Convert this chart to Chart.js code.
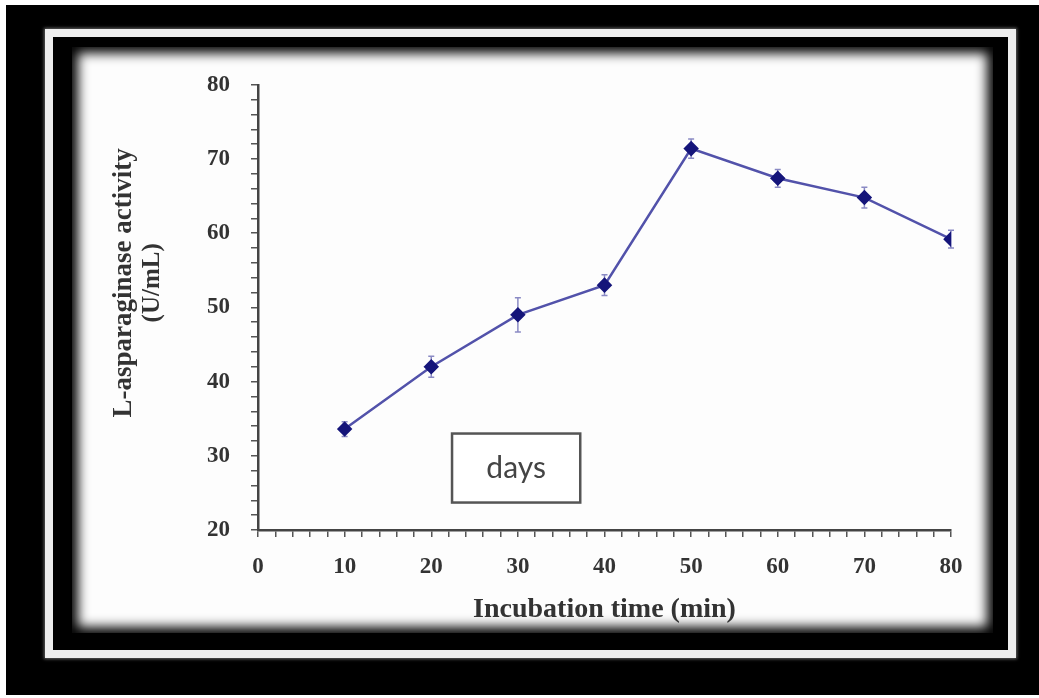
<!DOCTYPE html>
<html>
<head>
<meta charset="utf-8">
<script src="https://cdn.jsdelivr.net/npm/chart.js@4.4.1/dist/chart.umd.min.js"></script>
<style>
  body { margin: 0; background: #fff; }
  #outer { position: absolute; left: 6px; top: 5px; width: 1033px; height: 690px; background: #000; }
  #line { position: absolute; left: 45px; top: 29px; width: 971px; height: 629px; box-sizing: border-box;
          border: 8px solid #eee; background: #000; box-shadow: 0 0 3px 1px rgba(255,255,255,0.4); }
  #panel { position: absolute; left: 72px; top: 47px; width: 921px; height: 586px; background: #fdfdfd;
           box-shadow: inset 0 0 12px 6px #000; }
  #wrap { position: absolute; left: 75px; top: 50px; width: 915px; height: 580px; }
</style>
</head>
<body>
<div id="outer"></div>
<div id="line"></div>
<div id="panel"></div>
<div id="wrap"><canvas id="myChart"></canvas></div>
<script>
    var timeMin = [10, 20, 30, 40, 50, 60, 70, 80]
    var activity = [33.6, 42.0, 49.0, 53.0, 71.4, 67.4, 64.8, 59.2]
    var errors = [1.0, 1.4, 2.3, 1.4, 1.3, 1.2, 1.4, 1.2]
    var yTitle = ['L-asparaginase activity', '(U/mL)']
    var xTitle = 'Incubation time (min)'
    var boxLabel = 'days'

    var points = timeMin.map(function(t, i) { return {x: t, y: activity[i]} })

    // error bars, drawn before the line
    var errorBarPlugin = {
        id: 'errorBars',
        beforeDatasetsDraw: function(chart) {
            var ctx = chart.ctx
            var xs = chart.scales.x, ys = chart.scales.y
            ctx.save()
            ctx.strokeStyle = '#8a8ac4'
            ctx.lineWidth = 1.5
            for (var i = 0; i < timeMin.length; i++) {
                var px = xs.getPixelForValue(timeMin[i])
                var top = ys.getPixelForValue(activity[i] + errors[i])
                var bot = ys.getPixelForValue(activity[i] - errors[i])
                ctx.beginPath()
                ctx.moveTo(px, top); ctx.lineTo(px, bot)
                ctx.moveTo(px - 3, top); ctx.lineTo(px + 3, top)
                ctx.moveTo(px - 3, bot); ctx.lineTo(px + 3, bot)
                ctx.stroke()
            }
            ctx.restore()
        }
    }

    // y title (two lines) and the "days" text box
    var extrasPlugin = {
        id: 'extras',
        afterDraw: function(chart) {
            var ctx = chart.ctx
            var area = chart.chartArea
            var xs = chart.scales.x, ys = chart.scales.y
            ctx.save()
            ctx.translate(area.left - 134, area.top + 198)
            ctx.rotate(-Math.PI / 2)
            ctx.fillStyle = '#333'
            ctx.textAlign = 'center'
            ctx.textBaseline = 'middle'
            ctx.font = 'bold 27px "Liberation Serif"'
            ctx.fillText(yTitle[0], 0, 0)
            ctx.font = 'bold 25px "Liberation Serif"'
            ctx.fillText(yTitle[1], 0, 29)
            ctx.restore()

            var x0 = xs.getPixelForValue(22.4), x1 = xs.getPixelForValue(37.2)
            var y0 = ys.getPixelForValue(33.0), y1 = ys.getPixelForValue(23.7)
            ctx.save()
            ctx.strokeStyle = '#555'
            ctx.lineWidth = 2.5
            ctx.fillStyle = '#fff'
            ctx.fillRect(x0, y0, x1 - x0, y1 - y0)
            ctx.strokeRect(x0, y0, x1 - x0, y1 - y0)
            ctx.fillStyle = '#444'
            ctx.font = '30px Lato'
            ctx.textAlign = 'center'
            ctx.textBaseline = 'middle'
            ctx.fillText(boxLabel, (x0 + x1) / 2, (y0 + y1) / 2)
            ctx.restore()
        }
    }

    var ctx = document.getElementById('myChart').getContext('2d');
    var myChart = new Chart(ctx, {
        type: 'line',
        data: {
            datasets: [{
                label: 'L-asparaginase activity',
                data: points,
                borderColor: '#5252aa',
                borderWidth: 2.5,
                pointStyle: 'rectRot',
                pointRadius: 6,
                pointBackgroundColor: '#15157a',
                pointBorderColor: '#15157a',
                tension: 0,
                fill: false
            }]
        },
        options: {
            responsive: true,
            maintainAspectRatio: false,
            animation: false,
            layout: {
                padding: { top: 27, right: 39, left: 0, bottom: 0 }
            },
            plugins: {
                legend: { display: false },
                tooltip: { enabled: false }
            },
            scales: {
                x: {
                    type: 'linear',
                    min: 0,
                    max: 80,
                    afterFit: function(scale) { scale.height = 100 },
                    border: { display: true, color: '#444', width: 2.5 },
                    grid: { drawOnChartArea: false, drawTicks: true, tickLength: 7, color: '#555', lineWidth: 1.5 },
                    ticks: {
                        stepSize: 2,
                        autoSkip: false,
                        maxRotation: 0,
                        padding: 16,
                        color: '#333',
                        font: { family: 'Liberation Serif', size: 23, weight: 'bold' },
                        callback: function(v) { return v % 10 === 0 ? v : '' }
                    },
                    title: {
                        display: true,
                        text: xTitle,
                        color: '#333',
                        padding: { top: 0, bottom: 3 },
                        font: { family: 'Liberation Serif', size: 28, weight: 'bold' }
                    }
                },
                y: {
                    min: 20,
                    max: 80,
                    afterFit: function(scale) { scale.width = 183 },
                    border: { display: true, color: '#444', width: 2.5 },
                    grid: { drawOnChartArea: false, drawTicks: true, tickLength: 7, color: '#555', lineWidth: 1.5 },
                    ticks: {
                        stepSize: 2,
                        autoSkip: false,
                        padding: 21,
                        color: '#333',
                        font: { family: 'Liberation Serif', size: 23, weight: 'bold' },
                        callback: function(v) { return v % 10 === 0 ? v : '' }
                    }
                }
            }
        },
        plugins: [errorBarPlugin, extrasPlugin]
    });
</script>
</body>
</html>
